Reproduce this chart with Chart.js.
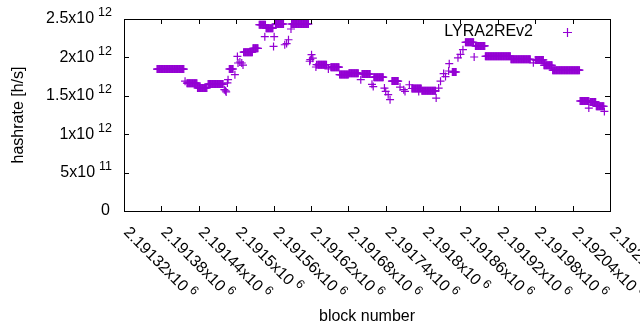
<!DOCTYPE html>
<html>
<head>
<meta charset="UTF-8">
<title>LYRA2REv2 hashrate</title>
<script src="https://cdn.jsdelivr.net/npm/chart.js"></script>
<style>
  html, body { margin: 0; padding: 0; background: #fff; }
</style>
</head>
<body>
<canvas id="hashChart" width="640" height="330"></canvas>
<script>
// blocks where the hashrate stays flat: [first block, last block, h/s]
const runs = [
  [2191373, 2191416, 1.848e12],
  [2191421, 2191437, 1.665e12],
  [2191438, 2191453, 1.603e12],
  [2191455, 2191479, 1.653e12],
  [2191489, 2191495, 1.849e12],
  [2191512, 2191526, 2.068e12],
  [2191527, 2191535, 2.118e12],
  [2191537, 2191547, 2.425e12],
  [2191548, 2191559, 2.380e12],
  [2191563, 2191576, 2.435e12],
  [2191589, 2191616, 2.435e12],
  [2191631, 2191645, 1.905e12],
  [2191652, 2191665, 1.873e12],
  [2191666, 2191680, 1.776e12],
  [2191681, 2191696, 1.795e12],
  [2191702, 2191715, 1.784e12],
  [2191721, 2191736, 1.743e12],
  [2191750, 2191760, 1.692e12],
  [2191782, 2191797, 1.595e12],
  [2191798, 2191820, 1.565e12],
  [2191847, 2191853, 1.810e12],
  [2191868, 2191881, 2.197e12],
  [2191884, 2191899, 2.150e12],
  [2191900, 2191940, 2.015e12],
  [2191941, 2191972, 1.976e12],
  [2191980, 2191993, 1.967e12],
  [2191994, 2192007, 1.898e12],
  [2192008, 2192051, 1.834e12],
  [2192052, 2192066, 1.432e12],
  [2192068, 2192077, 1.420e12],
  [2192078, 2192090, 1.364e12]
];

// single blocks off the flat runs: [block, h/s]
const singles = [
  [2191418, 1.69e12],
  [2191481, 1.58e12], [2191483, 1.566e12], [2191484, 1.55e12], [2191486, 1.667e12], [2191487, 1.71e12],
  [2191498, 1.775e12], [2191502, 2.013e12], [2191503, 1.927e12], [2191506, 1.94e12], [2191509, 1.927e12], [2191511, 1.9e12],
  [2191546, 2.27e12], [2191560, 2.143e12], [2191561, 2.27e12],
  [2191578, 2.165e12], [2191581, 2.18e12], [2191584, 2.23e12], [2191588, 2.37e12],
  [2191618, 1.95e12], [2191619, 1.97e12], [2191621, 2.035e12], [2191623, 1.99e12], [2191628, 1.875e12], [2191629, 1.905e12],
  [2191648, 1.85e12],
  [2191700, 1.71e12],
  [2191718, 1.65e12], [2191720, 1.62e12],
  [2191738, 1.6e12], [2191740, 1.557e12], [2191744, 1.514e12], [2191747, 1.45e12],
  [2191763, 1.614e12], [2191769, 1.58e12], [2191771, 1.557e12], [2191778, 1.644e12], [2191793, 1.557e12],
  [2191821, 1.47e12], [2191825, 1.6e12], [2191828, 1.69e12], [2191833, 1.79e12], [2191836, 1.75e12], [2191841, 1.823e12], [2191842, 1.918e12],
  [2191856, 1.995e12], [2191860, 2.04e12], [2191864, 2.1e12],
  [2191882, 2.005e12],
  [2191977, 1.93e12], [2191995, 1.92e12],
  [2192066, 1.34e12], [2192091, 1.297e12]
];

const yTickValues = [0, 5e11, 1e12, 1.5e12, 2e12, 2.5e12];
const yTickBase = ['0', '5x10', '1x10', '1.5x10', '2x10', '2.5x10'];
const yTickExp = ['', '11', '12', '12', '12', '12'];

const xTickValues = [2191320, 2191380, 2191440, 2191500, 2191560, 2191620, 2191680,
                     2191740, 2191800, 2191860, 2191920, 2191980, 2192040, 2192100];
const xTickBase = ['2.19132x10', '2.19138x10', '2.19144x10', '2.1915x10', '2.19156x10', '2.19162x10', '2.19168x10',
                   '2.19174x10', '2.1918x10', '2.19186x10', '2.19192x10', '2.19198x10', '2.19204x10', '2.1921x10'];
const xTickExp = '6';

const seriesName = 'LYRA2REv2';
const purple = '#9400d3';
const FONT = '"Liberation Sans", Arial, sans-serif';

// one point per block
const points = [];
runs.forEach(([b0, b1, v]) => {
  for (let b = b0; b <= b1; b++) points.push({ x: b, y: v });
});
singles.forEach(([b, v]) => points.push({ x: b, y: v }));

// gnuplot style frame, inward ticks, superscript labels and legend
const gnuplotLook = {
  id: 'gnuplotLook',
  afterDraw(chart) {
    const ctx = chart.ctx;
    const { left, right, top, bottom } = chart.chartArea;
    const xs = chart.scales.x, ys = chart.scales.y;
    ctx.save();
    ctx.strokeStyle = '#000';
    ctx.lineWidth = 1;
    ctx.strokeRect(left + 0.5, top + 0.5, right - left, bottom - top);

    ctx.beginPath();
    yTickValues.forEach(v => {
      const y = Math.round(ys.getPixelForValue(v)) + 0.5;
      ctx.moveTo(left, y); ctx.lineTo(left + 5, y);
      ctx.moveTo(right, y); ctx.lineTo(right - 5, y);
    });
    xTickValues.forEach(v => {
      const x = Math.round(xs.getPixelForValue(v)) + 0.5;
      ctx.moveTo(x, bottom); ctx.lineTo(x, bottom - 5);
      ctx.moveTo(x, top); ctx.lineTo(x, top + 5);
    });
    ctx.stroke();

    ctx.fillStyle = '#000';
    ctx.textBaseline = 'middle';

    // y labels
    const yRight = 112;
    yTickValues.forEach((v, i) => {
      const y = ys.getPixelForValue(v);
      ctx.textAlign = 'right';
      let edge = yRight;
      if (yTickExp[i]) {
        ctx.font = '12.5px ' + FONT;
        ctx.fillText(yTickExp[i], yRight, y - 6);
        edge = yRight - ctx.measureText(yTickExp[i]).width - 4;
      } else {
        edge = yRight - 2;
      }
      ctx.font = '16px ' + FONT;
      ctx.fillText(yTickBase[i], edge, y);
    });

    // x labels, turned 45 degrees clockwise
    xTickValues.forEach((v, i) => {
      const x = xs.getPixelForValue(v);
      ctx.save();
      ctx.translate(x + 2, bottom + 19);
      ctx.rotate(Math.PI / 4);
      ctx.textAlign = 'left';
      ctx.font = '16px ' + FONT;
      ctx.fillText(xTickBase[i], 0, 0);
      const w = ctx.measureText(xTickBase[i]).width;
      ctx.font = '12.5px ' + FONT;
      ctx.fillText(xTickExp, w + 4, -5);
      ctx.restore();
    });

    // legend: text, then sample on its right
    const ds = chart.data.datasets[0];
    ctx.font = '16px ' + FONT;
    ctx.textAlign = 'right';
    ctx.fillText(ds.label, 533, 32);
    ctx.strokeStyle = ds.borderColor;
    ctx.lineWidth = 1.2;
    ctx.beginPath();
    ctx.moveTo(563, 32.5); ctx.lineTo(572, 32.5);
    ctx.moveTo(567.5, 28); ctx.lineTo(567.5, 37);
    ctx.stroke();
    ctx.restore();
  }
};

new Chart(document.getElementById('hashChart'), {
  type: 'scatter',
  data: {
    datasets: [{
      label: seriesName,
      data: points,
      pointStyle: 'cross',
      pointRadius: 4,
      pointHoverRadius: 4,
      borderColor: purple,
      backgroundColor: purple,
      borderWidth: 1.2
    }]
  },
  options: {
    responsive: false,
    animation: false,
    events: [],
    layout: { padding: { top: 19, right: 30, left: 0, bottom: 0 } },
    plugins: { legend: { display: false }, tooltip: { enabled: false } },
    scales: {
      x: {
        type: 'linear',
        min: 2191320,
        max: 2192100,
        afterBuildTicks: s => { s.ticks = xTickValues.map(v => ({ value: v })); },
        afterFit: s => { s.height = 119; },
        ticks: { display: false },
        grid: { display: false },
        border: { display: false },
        title: { display: true, text: 'block number', color: '#000', font: { family: FONT, size: 16 }, padding: { top: 0, bottom: 4 } }
      },
      y: {
        min: 0,
        max: 2.5e12,
        afterBuildTicks: s => { s.ticks = yTickValues.map(v => ({ value: v })); },
        afterFit: s => { s.width = 124; },
        ticks: { display: false },
        grid: { display: false },
        border: { display: false },
        title: { display: true, text: 'hashrate [h/s]', color: '#000', font: { family: FONT, size: 16 }, padding: { top: 9, bottom: 0 } }
      }
    }
  },
  plugins: [gnuplotLook]
});
</script>
</body>
</html>
